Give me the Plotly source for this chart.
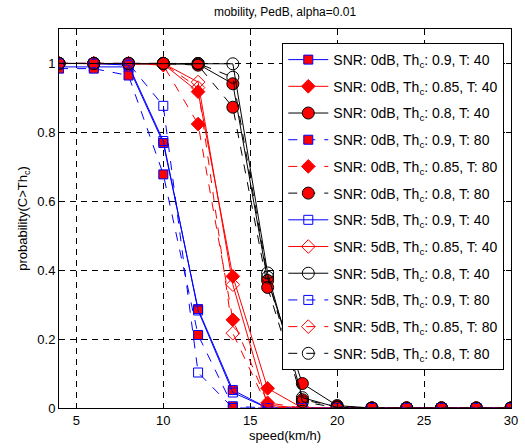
import plotly.graph_objects as go

speed = [4, 6, 8, 10, 12, 14, 16, 18, 20, 22, 24, 26, 28, 30]

# SNR 0dB
p0_90_T40 = [0.99, 0.99, 0.99, 0.769, 0.287, 0.052, 0, 0, 0, 0, 0, 0, 0, 0]
p0_85_T40 = [1, 1, 1, 0.998, 0.918, 0.382, 0.057, 0, 0, 0, 0, 0, 0, 0]
p0_80_T40 = [1, 1, 1, 1, 0.998, 0.941, 0.37, 0.071, 0.007, 0, 0, 0, 0, 0]
p0_90_T80 = [0.985, 0.985, 0.965, 0.678, 0.212, 0.005, 0, 0, 0, 0, 0, 0, 0, 0]
p0_85_T80 = [1, 1, 1, 0.995, 0.824, 0.256, 0.015, 0, 0, 0, 0, 0, 0, 0]
p0_80_T80 = [1, 1, 1, 1, 0.995, 0.873, 0.35, 0.024, 0.004, 0, 0, 0, 0, 0]
# SNR 5dB
p5_90_T40 = [1, 1, 0.995, 0.775, 0.283, 0.045, 0, 0, 0, 0, 0, 0, 0, 0]
p5_85_T40 = [1, 1, 1, 1, 0.946, 0.358, 0.008, 0, 0, 0, 0, 0, 0, 0]
p5_80_T40 = [1, 1, 1, 1, 1, 0.999, 0.392, 0.03, 0.002, 0, 0, 0, 0, 0]
p5_90_T80 = [1, 1, 1, 0.877, 0.103, 0, 0, 0, 0, 0, 0, 0, 0, 0]
p5_85_T80 = [1, 1, 1, 1, 0.93, 0.217, 0.003, 0, 0, 0, 0, 0, 0, 0]
p5_80_T80 = [1, 1, 1, 1, 1, 0.96, 0.38, 0.018, 0.001, 0, 0, 0, 0, 0]

x_ticks = [5, 10, 15, 20, 25, 30]
y_ticks = [0, 0.2, 0.4, 0.6, 0.8, 1]
y_tick_labels = ["0", "0.2", "0.4", "0.6", "0.8", "1"]

series = [
    ("0dB", "0.9", "40", p0_90_T40),
    ("0dB", "0.85", "40", p0_85_T40),
    ("0dB", "0.8", "40", p0_80_T40),
    ("0dB", "0.9", "80", p0_90_T80),
    ("0dB", "0.85", "80", p0_85_T80),
    ("0dB", "0.8", "80", p0_80_T80),
    ("5dB", "0.9", "40", p5_90_T40),
    ("5dB", "0.85", "40", p5_85_T40),
    ("5dB", "0.8", "40", p5_80_T40),
    ("5dB", "0.9", "80", p5_90_T80),
    ("5dB", "0.85", "80", p5_85_T80),
    ("5dB", "0.8", "80", p5_80_T80),
]

style = {
    "0.9": dict(color="#0000ff", symbol="square", size=9),
    "0.85": dict(color="#ff0000", symbol="diamond", size=10.5),
    "0.8": dict(color="#000000", symbol="circle", size=12),
}

fig = go.Figure()
for i, (snr, th, T, vals) in enumerate(series):
    st = style[th]
    filled = snr == "0dB"
    dash = "solid" if T == "40" else "dash"
    if filled:
        marker = dict(symbol=st["symbol"], size=st["size"], color="#ff0000",
                      line=dict(color=st["color"], width=1))
    else:
        marker = dict(symbol=st["symbol"] + "-open", size=st["size"], color=st["color"],
                      line=dict(color=st["color"], width=1))
    fig.add_trace(go.Scatter(
        x=speed, y=vals, mode="lines+markers",
        name=f"SNR: {snr}, Th<sub>c</sub>: {th}, T: {T}",
        line=dict(color=st["color"], width=1, dash=dash),
        marker=marker,
        legendgroup=f"g{i}",
    ))

fam = "Liberation Sans, Arial, sans-serif"
axis_font = dict(family=fam, size=13, color="black")

fig.update_layout(
    width=525, height=448,
    margin=dict(l=59, r=7, t=29, b=40),
    paper_bgcolor="white", plot_bgcolor="white",
    font=axis_font,
    title=dict(text="mobility, PedB, alpha=0.01", xref="paper", x=0.5, xanchor="center",
               y=1 - 12 / 448, yanchor="middle",
               font=dict(family=fam, size=12, color="black")),
    showlegend=True,
    legend=dict(x=0.494, y=0.963, xanchor="left", yanchor="top",
                bgcolor="white", bordercolor="black", borderwidth=1,
                font=dict(family=fam, size=14, color="black"),
                tracegroupgap=5.5, itemwidth=40),
)
fig.update_xaxes(
    range=[4, 30], tickvals=x_ticks, ticks="inside", ticklen=5, tickcolor="black",
    showline=True, linecolor="black", linewidth=1, mirror="ticks",
    showgrid=True, gridcolor="black", gridwidth=1, griddash="6px,5px",
    zeroline=False, ticklabeloverflow="allow",
    title=dict(text="speed(km/h)", standoff=4, font=axis_font),
)
fig.update_yaxes(
    range=[0, 1.1], tickvals=y_ticks, ticktext=y_tick_labels, ticks="inside", ticklen=5,
    tickcolor="black",
    showline=True, linecolor="black", linewidth=1, mirror="ticks",
    showgrid=True, gridcolor="black", gridwidth=1, griddash="6px,5px",
    zeroline=False,
    title=dict(text="probability(C>Th<sub>c</sub>)", standoff=6, font=axis_font),
)

fig.write_html("out.html", config={"displayModeBar": False},
               post_script="document.body.style.margin='0';")
